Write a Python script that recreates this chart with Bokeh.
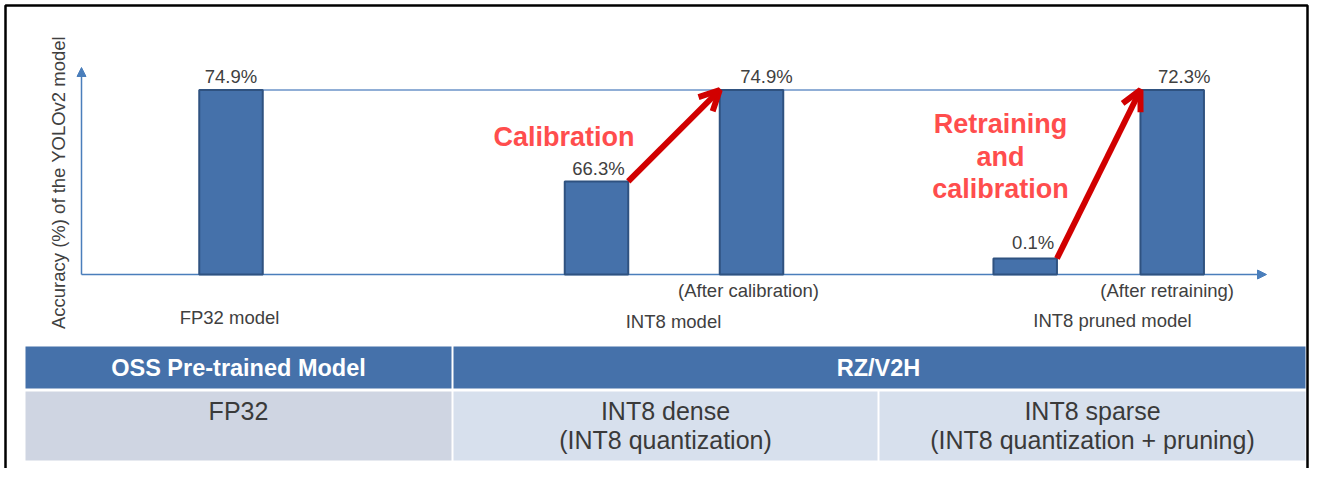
import math
from bokeh.plotting import figure
from bokeh.models import Range1d, Arrow, OpenHead, NormalHead, ColumnDataSource
from bokeh.core.properties import value
from bokeh.embed import file_html
from bokeh.resources import INLINE

# ---------------- data ----------------
bar_labels = ["74.9%", "66.3%", "74.9%", "0.1%", "72.3%"]
accuracy = [74.9, 66.3, 74.9, 0.1, 72.3]
# heights as drawn in the (not-to-scale) illustration, in accuracy units
drawn_height = [74.9, 37.8, 74.9, 6.5, 74.9]
sub_labels = ["", "", "(After calibration)", "", "(After retraining)"]
group_labels = ["FP32 model", "INT8 model", "INT8 pruned model"]
y_title = "Accuracy (%) of the YOLOv2 model"
step1 = "Calibration"
step2 = ["Retraining", "and", "calibration"]
table_header = ["OSS Pre-trained Model", "RZ/V2H"]
table_row_l1 = ["FP32", "INT8 dense", "INT8 sparse"]
table_row_l2 = ["", "(INT8 quantization)", "(INT8 quantization + pruning)"]

# ---------------- layout (reference pixel coordinates) ----------------
W, H = 1310, 468
bar_x = [230.5, 596.0, 751.0, 1024.7, 1171.7]
bar_w = 63.5
label_dx = [0, 2, 15, 8, 12]
label_gap_px = [14, 13, 14, 16, 14]
sub_dx = [0, 0, -3, 0, -5]
base_y = 274.0
px_per_unit = 184.5 / 74.9
acc_lo = (base_y - H) / px_per_unit
acc_hi = base_y / px_per_unit

FONT = "Liberation Sans"
TXT = "#404040"
BLUE = "#4571aa"
RED_TXT = "#ff4d4d"
RED = "#d10000"
AXIS = "#4a7ebb"

p = figure(width=W, height=H, output_backend="svg", toolbar_location=None,
           x_range=Range1d(0, W), y_range=Range1d(H, 0),
           x_axis_type=None, y_axis_type=None, min_border=0,
           background_fill_color="white", border_fill_color="white")
p.outline_line_color = None
p.grid.visible = False
p.extra_y_ranges = {"acc": Range1d(acc_lo, acc_hi)}

# frame border (left, top, right)
p.line(x=[5, 5, W - 3, W - 3], y=[H, 5, 5, H], line_color="black", line_width=2.5)

# axes with arrow heads
p.add_layout(Arrow(x_start=81, y_start=base_y, x_end=81, y_end=67, line_color=AXIS, line_width=1.5,
                   end=NormalHead(size=9, fill_color=AXIS, line_color=AXIS), level="underlay"))
p.add_layout(Arrow(x_start=81, y_start=base_y, x_end=1266, y_end=base_y, line_color=AXIS, line_width=1.5,
                   end=NormalHead(size=9, fill_color=AXIS, line_color=AXIS), level="underlay"))

# reference line across top of the full-accuracy bars
p.line(x=[bar_x[0] + bar_w / 2, bar_x[4] - bar_w / 2], y=[drawn_height[0], drawn_height[4]],
       y_range_name="acc", line_color="#6b93c9", line_width=1.3)

src = ColumnDataSource(dict(x=bar_x, top=drawn_height, lab=bar_labels,
                            ly=[h + g / px_per_unit for h, g in zip(drawn_height, label_gap_px)],
                            lx=[bx + d for bx, d in zip(bar_x, label_dx)],
                            sx=[bx + d for bx, d in zip(bar_x, sub_dx)], sub=sub_labels))
p.vbar(x="x", top="top", bottom=0, width=bar_w, source=src, y_range_name="acc",
       fill_color=BLUE, line_color="#2f5280", line_width=2)
p.text(x="lx", y="ly", text="lab", source=src, y_range_name="acc",
       text_align="center", text_baseline="alphabetic", text_font=value(FONT),
       text_font_size="18.5px", text_color=TXT)
p.text(x="sx", y=290, text="sub", source=src, text_align="center", text_baseline="middle",
       text_font=value(FONT), text_font_size="18.5px", text_color=TXT)

# group labels
p.text(x=[229, 673, 1112], y=[317, 321, 319.5], text=group_labels, text_align="center",
       text_baseline="middle", text_font=value(FONT), text_font_size="18.5px", text_color=TXT)

# y title
p.text(x=[58], y=[182], text=[y_title], angle=math.pi / 2, text_align="center",
       text_baseline="middle", text_font=value(FONT), text_font_size="18.5px", text_color=TXT)

# red arrows
p.add_layout(Arrow(x_start=bar_x[1] + bar_w / 2, y_start=drawn_height[1],
                   x_end=bar_x[2] - bar_w / 2, y_end=drawn_height[2], y_range_name="acc",
                   line_color=RED, line_width=6,
                   end=OpenHead(size=20, line_color=RED, line_width=6)))
p.add_layout(Arrow(x_start=bar_x[3] + bar_w / 2, y_start=drawn_height[3],
                   x_end=bar_x[4] - bar_w / 2, y_end=drawn_height[4], y_range_name="acc",
                   line_color=RED, line_width=6,
                   end=OpenHead(size=20, line_color=RED, line_width=6)))

# annotation texts
p.text(x=[563.5], y=[136], text=[step1], text_align="center", text_baseline="middle",
       text_font=value(FONT), text_font_size="27px", text_font_style="bold", text_color=RED_TXT)
p.text(x=[1000] * 3, y=[123, 156, 188], text=step2, text_align="center", text_baseline="middle",
       text_font=value(FONT), text_font_size="27px", text_font_style="bold", text_color=RED_TXT)

# table
p.quad(left=[25, 453], right=[451, 1305], top=[346, 346], bottom=[388, 388],
       fill_color=BLUE, line_color=None)
p.quad(left=[25, 453, 879], right=[451, 877, 1305], top=[391] * 3, bottom=[460] * 3,
       fill_color=["#cfd5e2", "#d7e0ed", "#d7e0ed"], line_color=None)
p.text(x=[238, 878], y=[367, 367], text=table_header, text_align="center", text_baseline="middle",
       text_font=value(FONT), text_font_size="23.5px", text_font_style="bold", text_color="white")
p.text(x=[238, 665, 1092], y=[410] * 3, text=table_row_l1, text_align="center",
       text_baseline="middle", text_font=value(FONT), text_font_size="25px", text_color="#3a3a3a")
p.text(x=[238, 665, 1092], y=[439] * 3, text=table_row_l2, text_align="center",
       text_baseline="middle", text_font=value(FONT), text_font_size="25px", text_color="#3a3a3a")

open("out.html", "w").write(file_html(p, INLINE))
